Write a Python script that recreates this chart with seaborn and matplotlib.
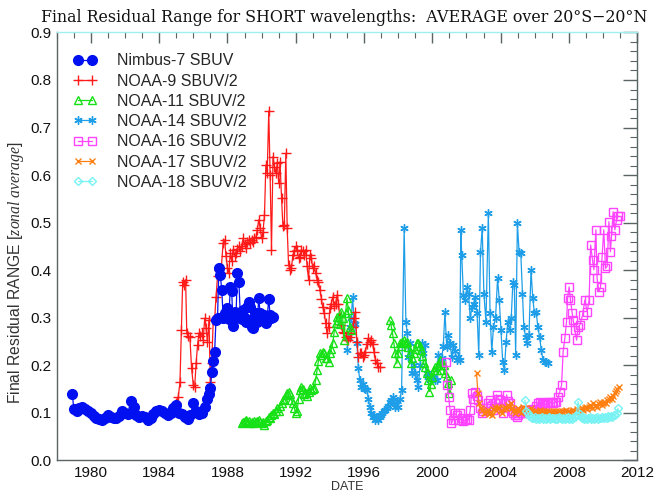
import matplotlib
matplotlib.use("Agg")
import matplotlib.pyplot as plt
from matplotlib.ticker import MultipleLocator, FormatStrFormatter
import numpy as np
import seaborn as sns

# ---- Nimbus-7 SBUV ----
nimbus_t = [1978.92, 1979.00, 1979.17, 1979.33, 1979.50, 1979.67, 1979.83, 1980.00, 1980.17, 1980.33,
            1980.50, 1980.67, 1980.83, 1981.00, 1981.17, 1981.33, 1981.50, 1981.67, 1981.83, 1982.00,
            1982.17, 1982.33, 1982.50, 1982.67, 1982.83, 1983.00, 1983.17, 1983.33, 1983.50, 1983.67,
            1983.83, 1984.00, 1984.17, 1984.33, 1984.50, 1984.67, 1984.83, 1985.00, 1985.17, 1985.33,
            1985.50, 1985.67, 1985.83, 1986.00, 1986.17, 1986.33, 1986.50, 1986.67, 1986.83, 1986.92,
            1987.00, 1987.08, 1987.17, 1987.25, 1987.33, 1987.42, 1987.50, 1987.58, 1987.67, 1987.75,
            1987.83, 1987.92, 1988.00, 1988.08, 1988.17, 1988.25, 1988.33, 1988.42, 1988.50, 1988.58,
            1988.67, 1988.75, 1988.83, 1988.92, 1989.00, 1989.08, 1989.17, 1989.25, 1989.33, 1989.42,
            1989.50, 1989.58, 1989.67, 1989.75, 1989.83, 1989.92, 1990.00, 1990.08, 1990.17, 1990.25,
            1990.33, 1990.42, 1990.50, 1990.58, 1990.67]
nimbus_v = [0.140, 0.108, 0.105, 0.110, 0.112, 0.108, 0.105, 0.100, 0.094, 0.090,
            0.088, 0.085, 0.090, 0.096, 0.092, 0.089, 0.090, 0.093, 0.104, 0.100,
            0.098, 0.125, 0.112, 0.096, 0.091, 0.094, 0.092, 0.086, 0.090, 0.097,
            0.104, 0.106, 0.105, 0.100, 0.096, 0.100, 0.110, 0.116, 0.100, 0.097,
            0.092, 0.088, 0.096, 0.120, 0.104, 0.098, 0.100, 0.112, 0.130, 0.140,
            0.152, 0.185, 0.210, 0.228, 0.296, 0.300, 0.405, 0.390, 0.358, 0.300,
            0.310, 0.302, 0.320, 0.298, 0.365, 0.356, 0.282, 0.312, 0.300, 0.394,
            0.376, 0.310, 0.298, 0.316, 0.300, 0.292, 0.322, 0.334, 0.323, 0.281,
            0.278, 0.300, 0.310, 0.292, 0.341, 0.310, 0.295, 0.300, 0.306, 0.290,
            0.302, 0.340, 0.305, 0.300, 0.302]

# ---- NOAA-9 SBUV/2 ----
n09_t = [1985.00, 1985.12, 1985.22, 1985.30, 1985.38, 1985.45, 1985.55, 1985.62, 1985.70, 1985.80,
         1985.90, 1986.00, 1986.08, 1986.17, 1986.25, 1986.33, 1986.42, 1986.50, 1986.58, 1986.67,
         1986.75, 1986.83, 1986.92, 1987.00, 1987.08, 1987.17, 1987.25, 1987.33, 1987.42, 1987.50,
         1987.62, 1987.75, 1987.83, 1987.92, 1988.00, 1988.08, 1988.17, 1988.25, 1988.33, 1988.42,
         1988.50, 1988.58, 1988.67, 1988.75, 1988.83, 1988.92, 1989.00, 1989.08, 1989.17, 1989.25,
         1989.33, 1989.42, 1989.50, 1989.58, 1989.67, 1989.75, 1989.83, 1989.92, 1990.00, 1990.08,
         1990.17, 1990.25, 1990.33, 1990.42, 1990.50, 1990.58, 1990.67, 1990.75, 1990.83, 1990.92,
         1991.00, 1991.08, 1991.17, 1991.25, 1991.33, 1991.42, 1991.50, 1991.58, 1991.67, 1991.75,
         1991.83, 1991.92, 1992.00, 1992.08, 1992.17, 1992.25, 1992.33, 1992.42, 1992.50, 1992.58,
         1992.67, 1992.75, 1992.83, 1992.92, 1993.00, 1993.08, 1993.17, 1993.25, 1993.33, 1993.42,
         1993.50, 1993.58, 1993.67, 1993.75, 1993.83, 1993.92, 1994.00, 1994.08, 1994.17, 1994.25,
         1994.33, 1994.42, 1994.50, 1994.58, 1994.67, 1994.75, 1994.83, 1994.92, 1995.00, 1995.08,
         1995.17, 1995.25, 1995.33, 1995.42, 1995.50, 1995.58, 1995.67, 1995.75, 1995.83, 1995.92,
         1996.00, 1996.08, 1996.17, 1996.25, 1996.33, 1996.42, 1996.50, 1996.58, 1996.67, 1996.75,
         1996.83, 1996.92]
n09_v = [0.120, 0.134, 0.164, 0.274, 0.376, 0.370, 0.380, 0.267, 0.262, 0.260,
         0.194, 0.159, 0.155, 0.206, 0.243, 0.267, 0.262, 0.267, 0.253, 0.299,
         0.278, 0.250, 0.295, 0.166, 0.204, 0.295, 0.295, 0.344, 0.387, 0.400,
         0.395, 0.458, 0.464, 0.430, 0.404, 0.395, 0.436, 0.420, 0.443, 0.430,
         0.436, 0.445, 0.450, 0.440, 0.450, 0.467, 0.455, 0.446, 0.460, 0.464,
         0.458, 0.464, 0.460, 0.467, 0.470, 0.485, 0.506, 0.488, 0.467, 0.480,
         0.516, 0.621, 0.604, 0.735, 0.600, 0.443, 0.639, 0.618, 0.604, 0.625,
         0.583, 0.628, 0.551, 0.492, 0.495, 0.646, 0.488, 0.411, 0.400, 0.404,
         0.432, 0.440, 0.450, 0.443, 0.425, 0.428, 0.443, 0.440, 0.432, 0.443,
         0.408, 0.380, 0.432, 0.425, 0.404, 0.408, 0.394, 0.380, 0.376, 0.358,
         0.340, 0.323, 0.310, 0.290, 0.267, 0.280, 0.320, 0.330, 0.344, 0.325,
         0.330, 0.348, 0.330, 0.302, 0.285, 0.270, 0.267, 0.260, 0.253, 0.253,
         0.260, 0.267, 0.280, 0.300, 0.313, 0.250, 0.218, 0.225, 0.225, 0.218,
         0.222, 0.229, 0.245, 0.257, 0.250, 0.253, 0.245, 0.229, 0.211, 0.205,
         0.197, 0.197]

# ---- NOAA-11 SBUV/2 (two operating periods) ----
n11a_t = [1988.83, 1988.92, 1989.00, 1989.08, 1989.17, 1989.25, 1989.33, 1989.42, 1989.50, 1989.58,
          1989.67, 1989.75, 1989.83, 1989.92, 1990.00, 1990.08, 1990.17, 1990.25, 1990.33, 1990.42,
          1990.50, 1990.58, 1990.67, 1990.75, 1990.83, 1990.92, 1991.00, 1991.08, 1991.17, 1991.25,
          1991.33, 1991.42, 1991.50, 1991.58, 1991.67, 1991.75, 1991.83, 1991.92, 1992.00, 1992.08,
          1992.17, 1992.25, 1992.33, 1992.42, 1992.50, 1992.58, 1992.67, 1992.75, 1992.83, 1992.92,
          1993.00, 1993.08, 1993.17, 1993.25, 1993.33, 1993.42, 1993.50, 1993.58, 1993.67, 1993.75,
          1993.83, 1993.92, 1994.00, 1994.08, 1994.17, 1994.25, 1994.33, 1994.42, 1994.50, 1994.58,
          1994.67, 1994.75, 1994.83, 1994.92, 1995.00, 1995.08, 1995.17, 1995.25]
n11a_v = [0.078, 0.080, 0.082, 0.085, 0.080, 0.082, 0.079, 0.080, 0.078, 0.083,
          0.080, 0.084, 0.085, 0.080, 0.078, 0.080, 0.075, 0.082, 0.086, 0.092,
          0.090, 0.095, 0.099, 0.097, 0.105, 0.110, 0.103, 0.115, 0.120, 0.127,
          0.130, 0.138, 0.141, 0.145, 0.140, 0.127, 0.120, 0.110, 0.099, 0.105,
          0.130, 0.148, 0.155, 0.150, 0.140, 0.141, 0.135, 0.145, 0.152, 0.148,
          0.150, 0.152, 0.170, 0.190, 0.210, 0.225, 0.222, 0.229, 0.225, 0.215,
          0.215, 0.208, 0.225, 0.235, 0.246, 0.270, 0.290, 0.302, 0.295, 0.288,
          0.313, 0.300, 0.253, 0.310, 0.341, 0.316, 0.281, 0.274]
n11b_t = [1997.50, 1997.58, 1997.67, 1997.75, 1997.83, 1997.92, 1998.00, 1998.08, 1998.17, 1998.25,
          1998.33, 1998.42, 1998.50, 1998.58, 1998.67, 1998.75, 1998.83, 1998.92, 1999.00, 1999.08,
          1999.17, 1999.25, 1999.33, 1999.42, 1999.50, 1999.58, 1999.67, 1999.75, 1999.83, 1999.92,
          2000.00, 2000.08, 2000.17, 2000.25, 2000.33, 2000.42, 2000.50, 2000.58, 2000.67, 2000.75,
          2000.83, 2000.92, 2001.00, 2001.08]
n11b_v = [0.295, 0.285, 0.267, 0.246, 0.225, 0.204, 0.225, 0.246, 0.240, 0.250,
          0.253, 0.246, 0.250, 0.239, 0.225, 0.204, 0.215, 0.225, 0.235, 0.246,
          0.246, 0.240, 0.232, 0.220, 0.204, 0.197, 0.183, 0.170, 0.145, 0.160,
          0.176, 0.190, 0.197, 0.190, 0.200, 0.211, 0.190, 0.204, 0.200, 0.183,
          0.175, 0.162, 0.141, 0.169]

# ---- NOAA-14 SBUV/2 ----
n14_t = [1995.00, 1995.08, 1995.17, 1995.25, 1995.33, 1995.42, 1995.50, 1995.58, 1995.67, 1995.75,
         1995.83, 1995.92, 1996.00, 1996.08, 1996.17, 1996.25, 1996.33, 1996.42, 1996.50, 1996.58,
         1996.67, 1996.75, 1996.83, 1996.92, 1997.00, 1997.08, 1997.17, 1997.25, 1997.33, 1997.42,
         1997.50, 1997.58, 1997.67, 1997.75, 1997.83, 1997.92, 1998.00, 1998.10, 1998.20, 1998.35,
         1998.45, 1998.53, 1998.60, 1998.70, 1998.80, 1998.90, 1999.00, 1999.10, 1999.18, 1999.28,
         1999.37, 1999.47, 1999.57, 1999.67, 1999.77, 1999.86, 1999.95, 2000.06, 2000.15, 2000.25,
         2000.35, 2000.45, 2000.55, 2000.64, 2000.74, 2000.84, 2000.94, 2001.04, 2001.13, 2001.23,
         2001.33, 2001.43, 2001.52, 2001.60, 2001.67, 2001.72, 2001.82, 2001.92, 2002.02, 2002.12,
         2002.22, 2002.32, 2002.42, 2002.52, 2002.62, 2002.72, 2002.82, 2002.92, 2003.02, 2003.14,
         2003.28, 2003.38, 2003.48, 2003.58, 2003.70, 2003.82, 2003.92, 2004.02, 2004.12, 2004.22,
         2004.32, 2004.42, 2004.52, 2004.62, 2004.72, 2004.80, 2004.88, 2004.98, 2005.08, 2005.18,
         2005.28, 2005.36, 2005.46, 2005.56, 2005.66, 2005.78, 2005.88, 2005.98, 2006.08, 2006.18,
         2006.28, 2006.38, 2006.48, 2006.58, 2006.68, 2006.75]
n14_v = [0.232, 0.260, 0.281, 0.300, 0.344, 0.290, 0.288, 0.246, 0.194, 0.169,
         0.155, 0.160, 0.155, 0.150, 0.148, 0.130, 0.113, 0.100, 0.092, 0.095,
         0.085, 0.090, 0.085, 0.092, 0.096, 0.100, 0.105, 0.106, 0.110, 0.115,
         0.124, 0.128, 0.134, 0.120, 0.113, 0.125, 0.113, 0.130, 0.148, 0.488,
         0.292, 0.267, 0.218, 0.246, 0.183, 0.200, 0.183, 0.170, 0.155, 0.200,
         0.246, 0.225, 0.243, 0.183, 0.176, 0.169, 0.176, 0.176, 0.169, 0.169,
         0.222, 0.204, 0.215, 0.240, 0.313, 0.239, 0.264, 0.246, 0.218, 0.243,
         0.230, 0.211, 0.218, 0.211, 0.485, 0.432, 0.348, 0.337, 0.365, 0.351,
         0.299, 0.323, 0.330, 0.344, 0.310, 0.222, 0.439, 0.488, 0.350, 0.292,
         0.520, 0.310, 0.229, 0.281, 0.299, 0.383, 0.337, 0.274, 0.208, 0.190,
         0.250, 0.292, 0.274, 0.300, 0.376, 0.369, 0.222, 0.499, 0.439, 0.436,
         0.350, 0.281, 0.260, 0.246, 0.264, 0.401, 0.341, 0.310, 0.313, 0.280,
         0.260, 0.232, 0.211, 0.208, 0.208, 0.205]

# ---- NOAA-16 SBUV/2 ----
n16_t = [2000.80, 2000.87, 2000.95, 2001.04, 2001.12, 2001.20, 2001.30, 2001.42, 2001.52, 2001.62,
         2001.72, 2001.82, 2001.92, 2002.02, 2002.12, 2002.22, 2002.30, 2002.40, 2002.49, 2002.59,
         2002.69, 2002.79, 2002.89, 2002.99, 2003.14, 2003.24, 2003.37, 2003.46, 2003.56, 2003.66,
         2003.76, 2003.86, 2003.95, 2004.05, 2004.15, 2004.25, 2004.35, 2004.45, 2004.54, 2004.64,
         2004.74, 2004.84, 2004.93, 2005.03, 2005.13, 2005.23, 2005.33, 2005.42, 2005.52, 2005.62,
         2005.71, 2005.81, 2005.90, 2006.00, 2006.10, 2006.20, 2006.30, 2006.40, 2006.49, 2006.59,
         2006.69, 2006.78, 2006.88, 2006.98, 2007.07, 2007.17, 2007.27, 2007.37, 2007.47, 2007.57,
         2007.66, 2007.76, 2007.86, 2007.92, 2008.01, 2008.09, 2008.19, 2008.25, 2008.35, 2008.45,
         2008.54, 2008.64, 2008.80, 2008.93, 2009.07, 2009.18, 2009.27, 2009.38, 2009.46, 2009.58,
         2009.65, 2009.75, 2009.85, 2009.94, 2010.04, 2010.14, 2010.24, 2010.34, 2010.43, 2010.49,
         2010.59, 2010.69, 2010.79, 2010.88, 2010.98]
n16_v = [0.208, 0.159, 0.134, 0.106, 0.078, 0.085, 0.099, 0.095, 0.085, 0.099,
         0.090, 0.082, 0.085, 0.088, 0.085, 0.106, 0.141, 0.130, 0.145, 0.135,
         0.127, 0.110, 0.099, 0.105, 0.110, 0.120, 0.127, 0.115, 0.106, 0.120,
         0.138, 0.130, 0.127, 0.110, 0.099, 0.120, 0.138, 0.125, 0.120, 0.105,
         0.099, 0.095, 0.092, 0.095, 0.099, 0.100, 0.103, 0.106, 0.105, 0.100,
         0.106, 0.103, 0.108, 0.106, 0.115, 0.120, 0.124, 0.118, 0.120, 0.117,
         0.120, 0.122, 0.124, 0.120, 0.120, 0.122, 0.124, 0.134, 0.145, 0.159,
         0.229, 0.257, 0.292, 0.341, 0.365, 0.337, 0.310, 0.295, 0.274, 0.253,
         0.281, 0.285, 0.306, 0.337, 0.313, 0.337, 0.453, 0.422, 0.401, 0.485,
         0.383, 0.355, 0.365, 0.428, 0.485, 0.404, 0.408, 0.502, 0.439, 0.471,
         0.523, 0.485, 0.506, 0.513, 0.513]

# ---- NOAA-17 SBUV/2 ----
n17_t = [2002.59, 2002.67, 2002.75, 2002.83, 2002.92, 2003.00, 2003.08, 2003.17, 2003.25, 2003.33,
         2003.42, 2003.50, 2003.58, 2003.67, 2003.75, 2003.83, 2003.92, 2004.00, 2004.08, 2004.17,
         2004.25, 2004.33, 2004.42, 2004.50, 2004.58, 2004.67, 2004.75, 2004.83, 2004.92, 2005.00,
         2005.08, 2005.17, 2005.25, 2005.33, 2005.42, 2005.50, 2005.58, 2005.67, 2005.75, 2005.83,
         2005.92, 2006.00, 2006.08, 2006.17, 2006.25, 2006.33, 2006.42, 2006.50, 2006.58, 2006.67,
         2006.75, 2006.83, 2006.92, 2007.00, 2007.08, 2007.17, 2007.25, 2007.33, 2007.42, 2007.50,
         2007.58, 2007.67, 2007.75, 2007.83, 2007.92, 2008.00, 2008.08, 2008.17, 2008.25, 2008.33,
         2008.42, 2008.50, 2008.58, 2008.67, 2008.75, 2008.83, 2008.92, 2009.00, 2009.08, 2009.17,
         2009.25, 2009.33, 2009.42, 2009.50, 2009.58, 2009.67, 2009.75, 2009.83, 2009.92, 2010.00,
         2010.08, 2010.17, 2010.25, 2010.33, 2010.42, 2010.50, 2010.58, 2010.67, 2010.75, 2010.83,
         2010.92]
n17_v = [0.183, 0.141, 0.120, 0.110, 0.106, 0.100, 0.099, 0.104, 0.106, 0.098,
         0.102, 0.096, 0.108, 0.112, 0.106, 0.113, 0.110, 0.104, 0.100, 0.108,
         0.113, 0.110, 0.116, 0.112, 0.120, 0.110, 0.104, 0.100, 0.106, 0.110,
         0.104, 0.100, 0.108, 0.113, 0.110, 0.104, 0.100, 0.106, 0.110, 0.103,
         0.100, 0.104, 0.103, 0.098, 0.102, 0.106, 0.100, 0.103, 0.101, 0.105,
         0.099, 0.103, 0.102, 0.100, 0.104, 0.101, 0.105, 0.100, 0.103, 0.102,
         0.104, 0.100, 0.103, 0.106, 0.102, 0.104, 0.100, 0.103, 0.106, 0.102,
         0.105, 0.108, 0.104, 0.107, 0.111, 0.106, 0.110, 0.113, 0.108, 0.112,
         0.116, 0.111, 0.120, 0.114, 0.117, 0.113, 0.118, 0.122, 0.116, 0.120,
         0.124, 0.120, 0.127, 0.130, 0.134, 0.129, 0.136, 0.141, 0.146, 0.150,
         0.155]

# ---- NOAA-18 SBUV/2 ----
n18_t = [2005.42, 2005.50, 2005.58, 2005.67, 2005.75, 2005.83, 2005.92, 2006.00, 2006.08, 2006.17,
         2006.25, 2006.33, 2006.42, 2006.50, 2006.58, 2006.67, 2006.75, 2006.83, 2006.92, 2007.00,
         2007.08, 2007.17, 2007.25, 2007.33, 2007.42, 2007.50, 2007.58, 2007.67, 2007.75, 2007.83,
         2007.92, 2008.00, 2008.08, 2008.17, 2008.25, 2008.33, 2008.42, 2008.54, 2008.62, 2008.70,
         2008.79, 2008.87, 2008.96, 2009.04, 2009.12, 2009.21, 2009.29, 2009.37, 2009.46, 2009.54,
         2009.62, 2009.71, 2009.79, 2009.87, 2009.96, 2010.04, 2010.12, 2010.21, 2010.29, 2010.37,
         2010.46, 2010.54, 2010.62, 2010.71, 2010.79, 2010.88]
n18_v = [0.127, 0.105, 0.099, 0.094, 0.092, 0.090, 0.089, 0.091, 0.088, 0.090,
         0.087, 0.089, 0.091, 0.088, 0.090, 0.087, 0.089, 0.091, 0.088, 0.090,
         0.089, 0.087, 0.090, 0.088, 0.091, 0.089, 0.087, 0.090, 0.088, 0.089,
         0.091, 0.088, 0.090, 0.087, 0.089, 0.091, 0.095, 0.124, 0.098, 0.092,
         0.089, 0.087, 0.090, 0.088, 0.089, 0.091, 0.088, 0.090, 0.087, 0.089,
         0.091, 0.088, 0.090, 0.089, 0.091, 0.090, 0.092, 0.089, 0.093, 0.091,
         0.094, 0.092, 0.096, 0.095, 0.100, 0.110]

x_ticks = [1980, 1984, 1988, 1992, 1996, 2000, 2004, 2008, 2012]

sns.set_theme(style="white")
plt.rcParams["font.family"] = ["Liberation Sans", "DejaVu Sans"]
plt.rcParams["mathtext.fontset"] = "custom"
plt.rcParams["mathtext.it"] = "Liberation Serif:italic"
plt.rcParams["mathtext.rm"] = "Liberation Sans"

fig = plt.figure(figsize=(6.56, 4.96), dpi=100)
ax = fig.add_axes([0.0864, 0.0716, 0.885, 0.863])

common = dict(ax=ax, estimator=None, sort=False, linewidth=0.9)

sns.lineplot(x=nimbus_t, y=nimbus_v, color="#0010F0", marker="o", markersize=7,
             markeredgecolor="#0010F0", markeredgewidth=1, label="Nimbus-7 SBUV",
             zorder=4, **common)
sns.lineplot(x=n09_t, y=n09_v, color="#FF1A1A", marker="+", markersize=7,
             markeredgecolor="#FF1A1A", markeredgewidth=1, label="NOAA-9 SBUV/2",
             zorder=3, **common)
sns.lineplot(x=n11a_t, y=n11a_v, color="#16E016", marker="^", markersize=6,
             markeredgecolor="#16E016", markerfacecolor="none", markeredgewidth=1,
             label="NOAA-11 SBUV/2", zorder=3, **common)
sns.lineplot(x=n11b_t, y=n11b_v, color="#16E016", marker="^", markersize=6,
             markeredgecolor="#16E016", markerfacecolor="none", markeredgewidth=1,
             label="_nolegend_", zorder=3, **common)
sns.lineplot(x=n14_t, y=n14_v, color="#1E9EE8", marker=(6, 2, 0), markersize=6,
             markeredgecolor="#1E9EE8", markeredgewidth=1, label="NOAA-14 SBUV/2",
             zorder=2, **common)
sns.lineplot(x=n16_t, y=n16_v, color="#FF44FF", marker="s", markersize=6,
             markeredgecolor="#FF44FF", markerfacecolor="none", markeredgewidth=1,
             label="NOAA-16 SBUV/2", zorder=3, **common)
sns.lineplot(x=n17_t, y=n17_v, color="#FF7F10", marker="x", markersize=5,
             markeredgecolor="#FF7F10", markeredgewidth=1, label="NOAA-17 SBUV/2",
             zorder=3, **common)
sns.lineplot(x=n18_t, y=n18_v, color="#78F2F2", marker="D", markersize=4.5,
             markeredgecolor="#78F2F2", markerfacecolor="none", markeredgewidth=1,
             label="NOAA-18 SBUV/2", zorder=3, **common)

ax.set_xlim(1978, 2012)
ax.set_ylim(0.0, 0.9)
ax.set_xticks(x_ticks)
ax.xaxis.set_minor_locator(MultipleLocator(1))
ax.yaxis.set_major_locator(MultipleLocator(0.1))
ax.yaxis.set_minor_locator(MultipleLocator(0.02))
ax.yaxis.set_major_formatter(FormatStrFormatter("%.1f"))

axis_col = "#5a6464"
for side in ["left", "bottom", "right"]:
    ax.spines[side].set_color(axis_col)
    ax.spines[side].set_linewidth(1.0)
ax.spines["top"].set_color("#9FEFEF")
ax.spines["top"].set_linewidth(1.0)

ax.tick_params(axis="both", which="both", direction="in", top=True, right=True,
               color=axis_col, labelsize=11, labelcolor="#111111")
ax.tick_params(axis="x", which="major", length=8, width=1, pad=4)
ax.tick_params(axis="x", which="minor", length=4, width=0.8)
ax.tick_params(axis="y", which="major", length=10, width=1, pad=4)
ax.tick_params(axis="y", which="minor", length=5, width=0.8)

fig.text(344 / 656, 1 - 17 / 496,
         "Final Residual Range for SHORT wavelengths:  AVERAGE over 20°S\u221220°N",
         fontfamily="DejaVu Serif", fontsize=11.4, ha="center", va="center",
         color="#111111")
ax.set_xlabel("DATE", fontsize=9, color="#333333", labelpad=1)
ax.set_ylabel(r"Final Residual RANGE [$\it{zonal\ average}$]", fontsize=11.3,
              color="#333333")
ax.yaxis.set_label_coords(-0.052, 0.44)

leg = ax.legend(loc="upper left", bbox_to_anchor=(0.004, 0.985), frameon=False,
                numpoints=2, handlelength=1.45, handletextpad=1.25, labelspacing=0.33,
                fontsize=11.5)

fig.savefig("out.png", dpi=100, facecolor="white")
